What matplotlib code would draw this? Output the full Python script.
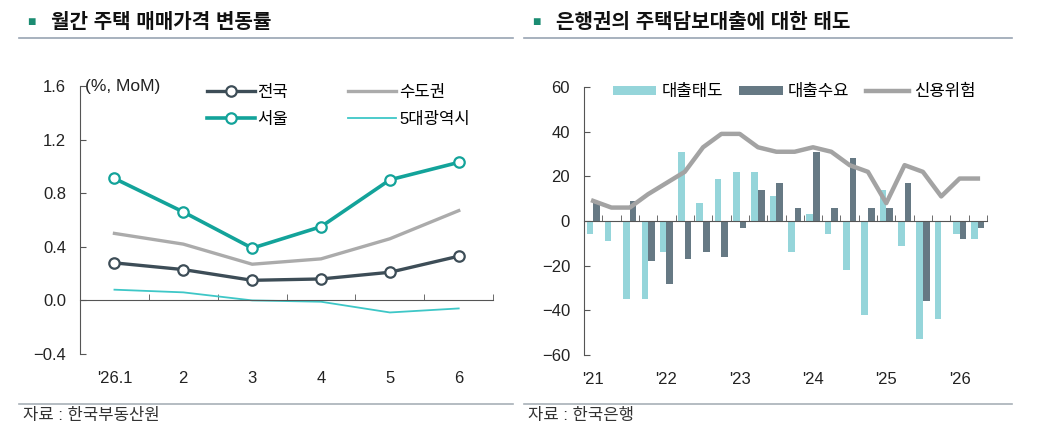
import numpy as np
import matplotlib
matplotlib.use('Agg')
import matplotlib.pyplot as plt
from matplotlib.lines import Line2D

plt.rcParams['font.family'] = ['Liberation Sans', 'Noto Sans CJK KR']
plt.rcParams['axes.unicode_minus'] = True

# left panel: monthly house price change (%, MoM)
months = ["'26.1", '2', '3', '4', '5', '6']
nation = [0.28, 0.23, 0.15, 0.16, 0.21, 0.33]
seoul = [0.91, 0.66, 0.39, 0.55, 0.90, 1.03]
capital = [0.50, 0.42, 0.27, 0.31, 0.46, 0.67]
metro5 = [0.08, 0.06, 0.00, -0.01, -0.09, -0.06]

# right panel: bank attitude on mortgage loans (quarterly, '21Q1 ~ '26Q2)
year_labels = ["'21", "'22", "'23", "'24", "'25", "'26"]
loan_attitude = [-6, -9, -35, -35, -14, 31, 8, 19, 22, 22, 11,
                 -14, 3, -6, -22, -42, 14, -11, -53, -44, -6, -8]
loan_demand = [9, 0, 9, -18, -28, -17, -14, -16, -3, 14, 17,
               6, 31, 6, 28, 6, 6, 17, -36, 0, -8, -3]
credit_risk = [9, 6, 6, 12, 17, 22, 33, 39, 39, 33, 31,
               31, 33, 31, 25, 22, 8, 25, 22, 11, 19, 19]

C_NATION = '#3d4d57'
C_SEOUL = '#13a39a'
C_CAPITAL = '#ababab'
C_METRO = '#3ec7c7'
C_LIGHT = '#95d5da'
C_DARK = '#667984'
C_RISK = '#a3a3a3'
C_AXIS = '#555555'
C_TEXT = '#222222'

fig = plt.figure(figsize=(10.38, 4.44), dpi=100)


def minus_fmt(fmt):
    return plt.FuncFormatter(lambda v, _: format(v, fmt).replace('-', '\u2212'))


def style_axes(ax):
    for s in ['top', 'right']:
        ax.spines[s].set_visible(False)
    ax.spines['left'].set_color(C_AXIS)
    ax.spines['bottom'].set_color(C_AXIS)
    ax.spines['bottom'].set_position(('data', 0))
    ax.tick_params(axis='y', direction='in', length=4, color=C_AXIS,
                   labelsize=12, labelcolor=C_TEXT, pad=10)
    ax.tick_params(axis='x', which='major', length=0, labelbottom=False)
    ax.tick_params(axis='x', which='minor', direction='in', length=4,
                   color=C_AXIS)


# ---- left chart ----
ax1 = fig.add_axes([0.0771, 0.2027, 0.398, 0.6036])
x1 = np.arange(len(months))
ax1.plot(x1, capital, color=C_CAPITAL, lw=2.4, label='수도권', zorder=2)
ax1.plot(x1, metro5, color=C_METRO, lw=1.3, label='5대광역시', zorder=2)
ax1.plot(x1, nation, color=C_NATION, lw=2.4, marker='o', ms=7.5,
         mfc='white', mec=C_NATION, mew=1.6, label='전국', zorder=3)
ax1.plot(x1, seoul, color=C_SEOUL, lw=2.6, marker='o', ms=7.5,
         mfc='white', mec=C_SEOUL, mew=1.6, label='서울', zorder=3)
ax1.set_xlim(-0.5, len(months) - 0.5)
ax1.set_ylim(-0.4, 1.6)
ax1.set_yticks([-0.4, 0.0, 0.4, 0.8, 1.2, 1.6])
ax1.yaxis.set_major_formatter(minus_fmt('.1f'))
ax1.set_xticks(x1)
ax1.set_xticks(np.arange(len(months)) + 0.5, minor=True)
style_axes(ax1)
sec1 = ax1.secondary_xaxis('bottom')
sec1.set_xticks(x1, months)
sec1.spines['bottom'].set_visible(False)
sec1.tick_params(length=0, labelsize=12, labelcolor=C_TEXT, pad=12)
ax1.text(0.012, 1.0, '(%, MoM)', transform=ax1.transAxes, fontsize=12.5,
         color=C_TEXT, va='center', ha='left')
h, l = ax1.get_legend_handles_labels()
order = [2, 3, 0, 1]
ax1.legend([h[i] for i in order], [l[i] for i in order], ncol=2,
           loc='upper left', bbox_to_anchor=(0.29, 1.03), frameon=False,
           fontsize=12, handlelength=2.9, handletextpad=0.15,
           columnspacing=3.6, labelspacing=0.75, borderaxespad=0)

# ---- right chart ----
ax2 = fig.add_axes([0.5626, 0.2005, 0.3883, 0.6036])
x2 = np.arange(len(loan_attitude))
w = 0.36
ax2.bar(x2 - w / 2, loan_attitude, width=w, color=C_LIGHT, label='대출태도',
        zorder=2)
ax2.bar(x2 + w / 2, loan_demand, width=w, color=C_DARK, label='대출수요',
        zorder=2)
ax2.plot(x2, credit_risk, color=C_RISK, lw=3.2, label='신용위험', zorder=3,
         solid_joinstyle='round')
ax2.set_xlim(-0.5, len(loan_attitude) - 0.5)
ax2.set_ylim(-60, 60)
ax2.set_yticks(np.arange(-60, 61, 20))
ax2.yaxis.set_major_formatter(minus_fmt('.0f'))
ax2.set_xticks(x2)
ax2.set_xticks(np.arange(len(loan_attitude) + 1) - 0.5, minor=True)
style_axes(ax2)
sec2 = ax2.secondary_xaxis('bottom')
sec2.set_xticks(np.arange(len(year_labels)) * 4, year_labels)
sec2.spines['bottom'].set_visible(False)
sec2.tick_params(length=0, labelsize=12, labelcolor=C_TEXT, pad=12)
h, l = ax2.get_legend_handles_labels()
order = [1, 2, 0]
ax2.legend([h[i] for i in order], [l[i] for i in order], loc='upper left',
           bbox_to_anchor=(0.055, 1.035), ncol=3, frameon=False, fontsize=12,
           handlelength=2.6, handleheight=0.45, handletextpad=0.3,
           columnspacing=1.0, borderaxespad=0)

# ---- headers and sources ----
titles = ['월간 주택 매매가격 변동률', '은행권의 주택담보대출에 대한 태도']
sources = ['자료 : 한국부동산원', '자료 : 한국은행']
panels = [(0.018, 0.494), (0.505, 0.975)]
for (x0, x1e), title, src in zip(panels, titles, sources):
    fig.text(x0 + 0.008, 0.951, '■', color='#1b8c72', fontsize=10,
             va='center', ha='left')
    fig.text(x0 + 0.031, 0.949, title, fontsize=14.5, fontweight='bold',
             color='#111111', va='center', ha='left')
    fig.add_artist(Line2D([x0, x1e], [0.915, 0.915], color='#98a4b3',
                          lw=1.2, transform=fig.transFigure))
    fig.add_artist(Line2D([x0, x1e], [0.09, 0.09], color='#a8b0b8',
                          lw=1.2, transform=fig.transFigure))
    fig.text(x0 + 0.004, 0.064, src, fontsize=12, color='#333333',
             va='center', ha='left')

fig.savefig('out.png', dpi=100)
